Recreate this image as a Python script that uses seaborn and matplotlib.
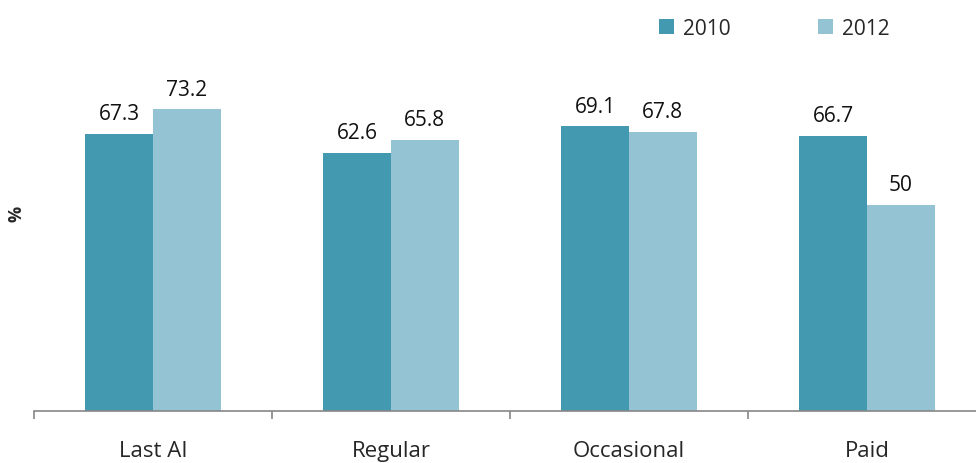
import matplotlib
matplotlib.use("Agg")
import matplotlib.pyplot as plt
import matplotlib.patches as mpatches
import numpy as np
import pandas as pd
import seaborn as sns

categories = ["Last AI", "Regular", "Occasional", "Paid"]
years = ["2010", "2012"]
values_2010 = [67.3, 62.6, 69.1, 66.7]
values_2012 = [73.2, 65.8, 67.8, 50]
value_labels_2010 = ["67.3", "62.6", "69.1", "66.7"]
value_labels_2012 = ["73.2", "65.8", "67.8", "50"]

colors = {"2010": "#4399AF", "2012": "#94C4D4"}

df = pd.DataFrame({
    "category": categories * 2,
    "year": ["2010"] * len(categories) + ["2012"] * len(categories),
    "value": values_2010 + values_2012,
})

sns.set_style("white")
plt.rcParams["font.family"] = ["Open Sans", "DejaVu Sans"]

fig = plt.figure(figsize=(9.76, 4.64), dpi=100)
ax = fig.add_axes([34 / 976, 52 / 464, 952 / 976, 412 / 464])

sns.barplot(data=df, x="category", y="value", hue="year", order=categories,
            hue_order=years, palette=colors, width=0.57, gap=0,
            saturation=1, linewidth=0, ax=ax, legend=False)

for container, labels in zip(ax.containers, [value_labels_2010, value_labels_2012]):
    ax.bar_label(container, labels=labels, padding=7, fontsize=15, color="#111111")

ax.set_ylim(0, 100)
ax.set_xlim(-0.5, len(categories) - 0.5)
ax.set_yticks([])
ax.set_xlabel("")
ax.set_ylabel("%", fontsize=13, fontweight="bold")
ax.yaxis.set_label_coords(-9 / 952, 0.48)

for side in ["top", "right", "left"]:
    ax.spines[side].set_visible(False)
ax.spines["bottom"].set_color("#868686")
ax.spines["bottom"].set_linewidth(1.2)

ax.set_xticks(np.arange(len(categories)))
ax.set_xticklabels(categories, fontsize=16)
ax.tick_params(axis="x", which="major", length=0, pad=21)
ax.set_xticks(np.arange(len(categories) + 1) - 0.5, minor=True)
ax.tick_params(axis="x", which="minor", length=6, width=1.2, color="#868686",
               direction="out", bottom=True)

handles = [mpatches.Patch(facecolor=colors[y], edgecolor="none", label=y) for y in years]
ax.legend(handles=handles, ncol=2, frameon=False, fontsize=15,
          loc="upper left", bbox_to_anchor=(606 / 952, 1.0),
          handlelength=0.75, handleheight=0.75, handletextpad=0.4,
          columnspacing=4.2, borderaxespad=0.5)

fig.savefig("out.png", dpi=100)
